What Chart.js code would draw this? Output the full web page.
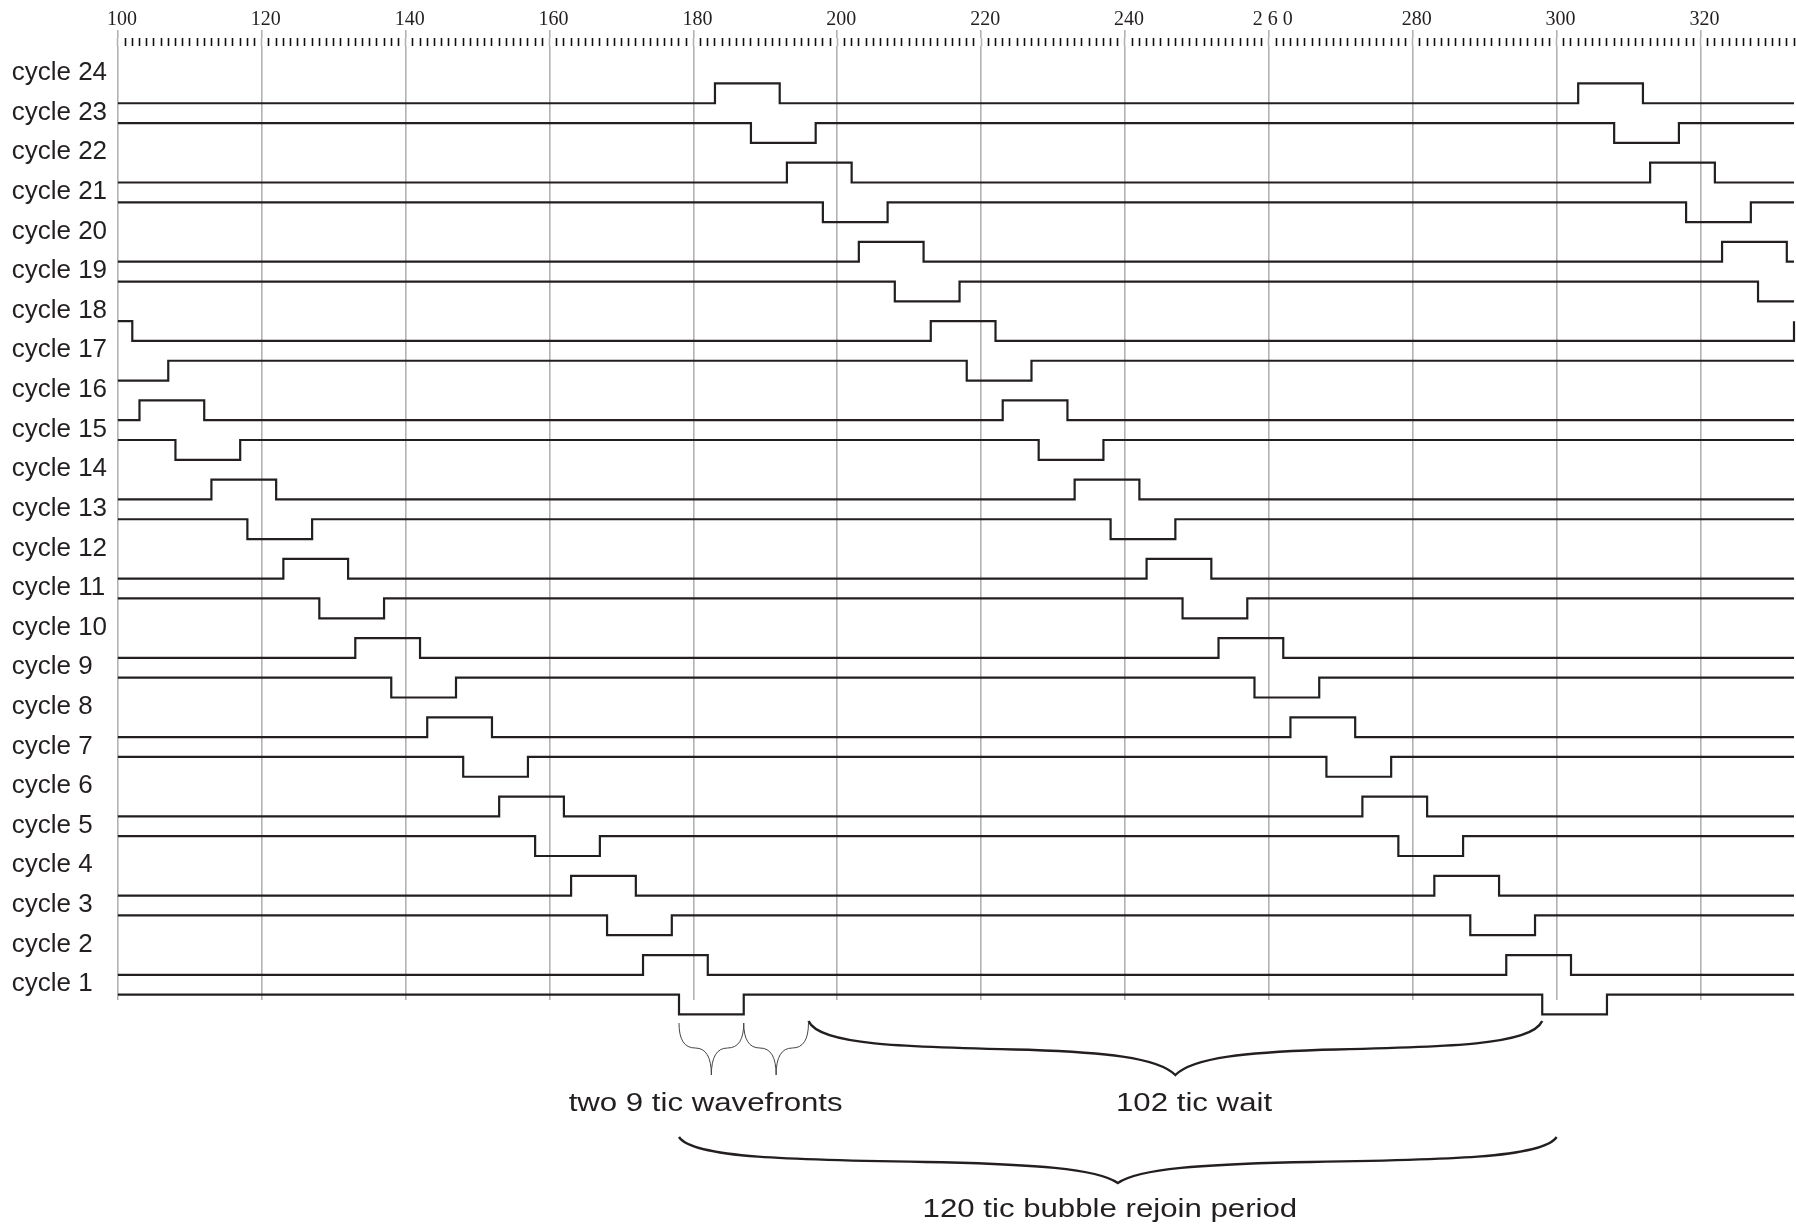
<!DOCTYPE html>
<html>
<head>
<meta charset="utf-8">
<script src="https://cdn.jsdelivr.net/npm/chart.js@4.4.0/dist/chart.umd.min.js"></script>
<style>
body { margin: 0; background: #fff; }
#wrap { width: 1796px; height: 1225px; }
</style>
</head>
<body>
<div id="wrap"><canvas id="timing"></canvas></div>
<script>
// top axis
var tickValues = [100, 120, 140, 160, 180, 200, 220, 240, 260, 280, 300, 320];
var tickLabels = ['100', '120', '140', '160', '180', '200', '220', '240', '2 6 0', '280', '300', '320'];
var xStart = 100, xEnd = 333;

var cycleLabels = ['cycle 1', 'cycle 2', 'cycle 3', 'cycle 4', 'cycle 5', 'cycle 6',
  'cycle 7', 'cycle 8', 'cycle 9', 'cycle 10', 'cycle 11', 'cycle 12',
  'cycle 13', 'cycle 14', 'cycle 15', 'cycle 16', 'cycle 17', 'cycle 18',
  'cycle 19', 'cycle 20', 'cycle 21', 'cycle 22', 'cycle 23', 'cycle 24'];

// traces, bottom to top: resting level, pulse direction, pulses [start, end] in tics
var baseLevels = [1, 2, 5, 6, 9, 10, 13, 14, 17, 18, 21, 22, 25, 26, 29, 30, 33, 34, 37, 38, 41, 42, 45, 46];
var pulseDir = [-1, 1, -1, 1, -1, 1, -1, 1, -1, 1, -1, 1, -1, 1, -1, 1, -1, 1, -1, 1, -1, 1, -1, 1];
var pulses = [
  [[178, 187], [298, 307]],
  [[173, 182], [293, 302]],
  [[168, 177], [288, 297]],
  [[163, 172], [283, 292]],
  [[158, 167], [278, 287]],
  [[153, 162], [273, 282]],
  [[148, 157], [268, 277]],
  [[143, 152], [263, 272]],
  [[138, 147], [258, 267]],
  [[133, 142], [253, 262]],
  [[128, 137], [248, 257]],
  [[123, 132], [243, 252]],
  [[118, 127], [238, 247]],
  [[113, 122], [233, 242]],
  [[108, 117], [228, 237]],
  [[103, 112], [223, 232]],
  [[98, 107], [218, 227]],
  [[93, 102], [213, 222], [333, 342]],
  [[208, 217], [328, 337]],
  [[203, 212], [323, 332]],
  [[198, 207], [318, 327]],
  [[193, 202], [313, 322]],
  [[188, 197], [308, 317]],
  [[183, 192], [303, 312]]
];

// braces under the plot, in tics
var braceSpans = [[178, 187], [187, 196], [196, 298], [178, 300]];
var notes = ['two 9 tic wavefronts', '102 tic wait', '120 tic bubble rejoin period'];

var ink = '#231f20';
var gridGrey = '#b3b3b3';

function trace(k) {
  var base = baseLevels[k], high = base + pulseDir[k];
  var p = pulses[k];
  var level = base;
  p.forEach(function (q) { if (q[0] <= xStart && q[1] > xStart) level = high; });
  var pts = [{x: xStart, y: level}];
  p.forEach(function (q) {
    if (q[0] > xStart && q[0] <= xEnd) pts.push({x: q[0], y: high});
    if (q[1] > xStart && q[1] <= xEnd) pts.push({x: q[1], y: base});
  });
  var last = pts[pts.length - 1];
  if (last.x < xEnd) pts.push({x: xEnd, y: last.y});
  return pts;
}

var datasets = baseLevels.map(function (b, k) {
  return {
    data: trace(k),
    stepped: 'before',
    borderColor: ink,
    borderWidth: 2.2,
    borderJoinStyle: 'miter',
    pointRadius: 0,
    fill: false,
    clip: false,
    xAxisID: 'x',
    yAxisID: 'y'
  };
});

function brace(ctx, x1, x2, y0, yMid, yTip, big) {
  var xm = (x1 + x2) / 2, h = xm - x1, d = yTip - yMid;
  ctx.beginPath();
  if (!big) {
    ctx.moveTo(x1, y0);
    ctx.quadraticCurveTo(x1, yMid, (x1 + xm) / 2, yMid);
    ctx.quadraticCurveTo(xm, yMid, xm, yTip);
    ctx.quadraticCurveTo(xm, yMid, (xm + x2) / 2, yMid);
    ctx.quadraticCurveTo(x2, yMid, x2, y0);
  } else {
    ctx.moveTo(x1, y0);
    ctx.bezierCurveTo(x1 + 0.03 * h, yMid - 2, x1 + 0.25 * h, yMid, x1 + 0.6 * h, yMid + 0.1 * d);
    ctx.bezierCurveTo(xm - 0.2 * h, yMid + 0.2 * d, xm - 0.05 * h, yMid + 0.35 * d, xm, yTip);
    ctx.bezierCurveTo(xm + 0.05 * h, yMid + 0.35 * d, xm + 0.2 * h, yMid + 0.2 * d, x2 - 0.6 * h, yMid + 0.1 * d);
    ctx.bezierCurveTo(x2 - 0.25 * h, yMid, x2 - 0.03 * h, yMid - 2, x2, y0);
  }
  ctx.stroke();
}

function note(ctx, text, cx, baseline) {
  ctx.save();
  ctx.translate(cx, baseline);
  ctx.scale(1.2, 1);
  ctx.font = '26px "Liberation Sans"';
  ctx.fillStyle = ink;
  ctx.textAlign = 'center';
  ctx.textBaseline = 'alphabetic';
  ctx.fillText(text, 0, 0);
  ctx.restore();
}

var bracePlugin = {
  id: 'braces',
  afterDraw: function (chart) {
    var ctx = chart.ctx, xs = chart.scales.x, b = chart.chartArea.bottom;
    var px = function (v) { return xs.getPixelForValue(v); };
    ctx.save();
    ctx.strokeStyle = '#444';
    ctx.lineWidth = 1;
    brace(ctx, px(braceSpans[0][0]), px(braceSpans[0][1]), b + 23, b + 48, b + 75, false);
    brace(ctx, px(braceSpans[1][0]), px(braceSpans[1][1]), b + 23, b + 48, b + 75, false);
    ctx.strokeStyle = ink;
    ctx.lineWidth = 2.4;
    brace(ctx, px(braceSpans[2][0]), px(braceSpans[2][1]), b + 21, b + 47, b + 75, true);
    brace(ctx, px(braceSpans[3][0]), px(braceSpans[3][1]), b + 137, b + 160, b + 183, true);
    ctx.restore();
    note(ctx, notes[0], px(181.7), b + 111);
    note(ctx, notes[1], px(249.6), b + 111);
    note(ctx, notes[2], px(237.9), b + 217);
  }
};

Chart.defaults.font.family = '"Liberation Sans", Arial, sans-serif';

new Chart(document.getElementById('timing'), {
  type: 'line',
  data: { datasets: datasets },
  options: {
    responsive: true,
    maintainAspectRatio: false,
    animation: false,
    layout: { padding: { left: 11.7, right: 2, top: 0, bottom: 225 } },
    plugins: { legend: { display: false }, tooltip: { enabled: false } },
    scales: {
      x: {
        type: 'linear',
        axis: 'x',
        position: 'top',
        weight: 1,
        min: xStart,
        max: xEnd,
        afterBuildTicks: function (s) { s.ticks = tickValues.map(function (v) { return {value: v}; }); },
        afterFit: function (s) { s.height = 38; },
        ticks: {
          callback: function (v, i) { return tickLabels[i]; },
          font: { family: '"Liberation Serif", "Times New Roman", serif', size: 20 },
          color: ink,
          padding: -2,
          labelOffset: 4,
          maxRotation: 0,
          autoSkip: false
        },
        grid: { color: gridGrey, lineWidth: 1.6, tickLength: 8 },
        border: { display: false }
      },
      xMinor: {
        type: 'linear',
        axis: 'x',
        position: 'top',
        weight: 0,
        min: xStart,
        max: xEnd,
        afterBuildTicks: function (s) {
          var t = [];
          for (var v = xStart; v <= xEnd; v++) t.push({value: v});
          s.ticks = t;
        },
        afterFit: function (s) { s.height = 8; },
        ticks: { display: false },
        grid: {
          drawOnChartArea: false,
          tickLength: 8,
          tickColor: function (c) { return c.tick.value % 20 === 0 ? gridGrey : '#111'; },
          tickWidth: 1.6
        },
        border: { display: false }
      },
      y: {
        type: 'linear',
        position: 'left',
        min: 0.73,
        max: 48.89,
        afterBuildTicks: function (s) {
          s.ticks = cycleLabels.map(function (l, i) { return {value: 1.53 + 2 * i}; });
        },
        afterFit: function (s) { s.width = 106.2; },
        ticks: {
          callback: function (v, i) { return cycleLabels[i]; },
          crossAlign: 'far',
          font: { size: 26 },
          color: ink,
          padding: 0,
          autoSkip: false
        },
        grid: { display: false },
        border: { display: false }
      }
    }
  },
  plugins: [bracePlugin]
});
</script>
</body>
</html>
